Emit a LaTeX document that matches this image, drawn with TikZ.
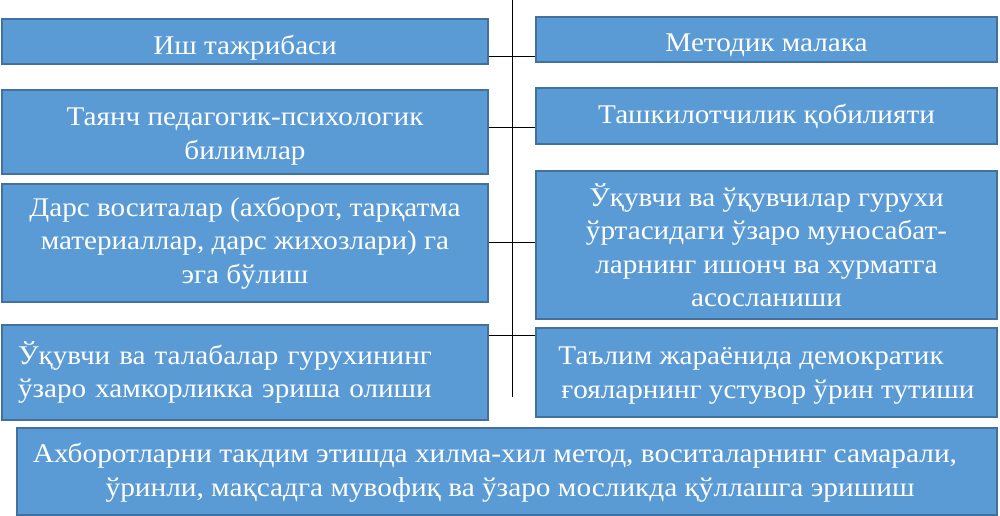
\documentclass[tikz,border=0pt]{standalone}
\usepackage{fontspec}
\setmainfont{Liberation Serif}[FakeStretch=1.08]
\usepackage{graphicx}
\definecolor{boxfill}{HTML}{5B9BD5}
\definecolor{boxline}{HTML}{41719C}
\newcommand\lowlines[2]{\raisebox{-#1}[\height][\depth]{\begin{tabular}{@{}c@{}}#2\end{tabular}}}
\newcommand\lowlinesleft[2]{\raisebox{-#1}[\height][\depth]{\begin{tabular}{@{}l@{}}#2\end{tabular}}}
\tikzset{
  box/.style={draw=boxline, fill=boxfill, line width=1.3pt, inner sep=0pt,
    text=white, font=\fontsize{27}{33.5}\selectfont, align=center},
  leftbox/.style={box, align=left},
  link/.style={draw=black, line width=1pt}
}
\begin{document}
\begin{tikzpicture}[x=1pt,y=-1pt]
\useasboundingbox (0,0) rectangle (1000,516);
% left column
\node[box, minimum width=486pt, minimum height=45pt, text height=27pt, text depth=0pt] (L1) at (245,41.5) {Иш тажрибаси};
\node[box, minimum width=486pt, minimum height=84pt] (L2) at (245,132) {\lowlines{4pt}{Таянч педагогик-психологик\\билимлар}};
\node[box, minimum width=486pt, minimum height=118pt] (L3) at (245,243) {Дарс воситалар (ахборот, тарқатма\\материаллар, дарс жихозлари) га\\эга бўлиш};
\node[leftbox, minimum width=486pt, minimum height=95pt, text width=454pt, inner xsep=16pt] (L4) at (245,372.5) {Ўқувчи ва талабалар гурухининг\\ўзаро хамкорликка эриша олиши};
% right column
\node[box, minimum width=461pt, minimum height=45pt, text height=25pt, text depth=0pt] (R1) at (766.5,39.5) {Методик малака};
\node[box, minimum width=461pt, minimum height=56pt] (R2) at (766.5,116) {Ташкилотчилик қобилияти};
\node[box, minimum width=461pt, minimum height=148pt] (R3) at (766.5,245) {Ўқувчи ва ўқувчилар гурухи\\ўртасидаги ўзаро муносабат-\\ларнинг ишонч ва хурматга\\асосланиши};
\node[box, minimum width=461pt, minimum height=89pt] (R4) at (766.5,372.5) {\lowlinesleft{2.5pt}{Таълим жараёнида демократик\\\hspace*{3pt}ғояларнинг устувор ўрин тутиши}};
% bottom
\node[box, minimum width=980pt, minimum height=87pt] (B) at (507,471.5) {\raisebox{-1.5pt}[\height][\depth]{\resizebox{924pt}{\height}{\begin{tabular}{@{}c@{}}Ахборотларни такдим этишда хилма-хил метод, воситаларнинг самарали,\\\hspace*{30pt}ўринли, мақсадга мувофиқ ва ўзаро мосликда қўллашга эришиш\end{tabular}}}\hspace*{24pt}};
% spine and connectors
\coordinate (sTop) at (512,0);
\coordinate (sBot) at (512,397);
\coordinate (j1) at (512,57);
\coordinate (j2) at (512,127);
\coordinate (j3) at (512,242);
\coordinate (j4) at (512,335);
\draw[link] (sTop) -- (sBot);
\draw[link] (L1.east |- j1) -- (R1.west |- j1);
\draw[link] (L2.east |- j2) -- (R2.west |- j2);
\draw[link] (L3.east |- j3) -- (R3.west |- j3);
\draw[link] (L4.east |- j4) -- (R4.west |- j4);
\end{tikzpicture}
\end{document}
